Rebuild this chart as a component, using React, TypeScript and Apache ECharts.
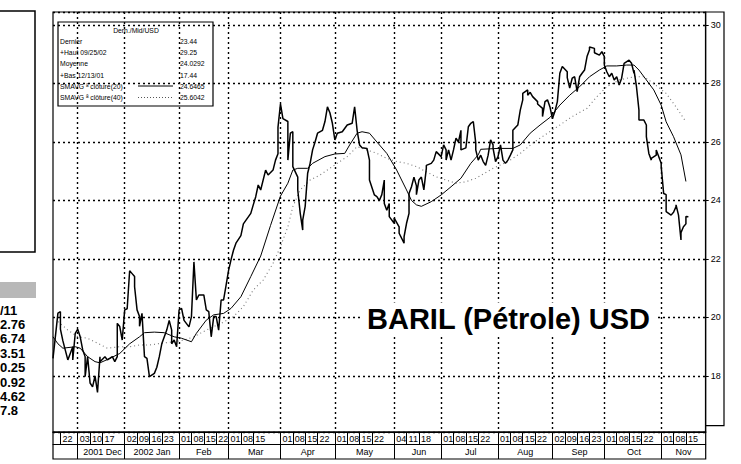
import React, { useEffect, useRef } from "react";
import * as echarts from "echarts";

// ---- trading-day calendar (category axis) ----
const calendarStart = "2001-11-19";
const calendarEnd = "2002-11-27";
const holidays = ["2001-12-25", "2001-12-26", "2002-01-01"];

// day labels (first row) and month cells (second row)
const dayTickDates = [
  "2001-11-22", "2001-12-03", "2001-12-10", "2001-12-17",
  "2002-01-02", "2002-01-09", "2002-01-16", "2002-01-23",
  "2002-02-01", "2002-02-08", "2002-02-15", "2002-02-22",
  "2002-03-01", "2002-03-08", "2002-03-15",
  "2002-04-01", "2002-04-08", "2002-04-15", "2002-04-22",
  "2002-05-01", "2002-05-08", "2002-05-15", "2002-05-22",
  "2002-06-04", "2002-06-11", "2002-06-18",
  "2002-07-01", "2002-07-08", "2002-07-15", "2002-07-22",
  "2002-08-01", "2002-08-08", "2002-08-15", "2002-08-22",
  "2002-09-02", "2002-09-09", "2002-09-16", "2002-09-23",
  "2002-10-01", "2002-10-08", "2002-10-15", "2002-10-22",
  "2002-11-01", "2002-11-08", "2002-11-15",
];
const monthStartDates = [
  "2001-12-03", "2002-01-02", "2002-02-01", "2002-03-01", "2002-04-01", "2002-05-01",
  "2002-06-04", "2002-07-01", "2002-08-01", "2002-09-02", "2002-10-01", "2002-11-01",
];
const monthLabels = ["2001 Dec", "2002 Jan", "Feb", "Mar", "Apr", "May", "Jun", "Jul", "Aug", "Sep", "Oct", "Nov"];

// ---- series: trading-day number (0 = 2001-11-19) and price in USD ----
const priceDay = [
  0, 2, 3, 3, 4, 6, 8, 8, 9, 10, 11, 12, 13, 13, 14, 15, 16, 17, 18, 19, 19, 21, 22, 24, 25, 26, 26, 27, 28, 29,
  30, 31, 32, 33, 33, 34, 35, 35, 36, 37, 38, 39, 41, 42, 43, 44, 46, 47, 48, 48, 49, 50, 51, 52, 53, 55, 56, 57, 58, 59,
  61, 62, 63, 64, 65, 66, 67, 68, 69, 70, 71, 72, 73, 74, 76, 77, 80, 81, 82, 83, 84, 86, 87, 89, 90, 91, 91, 92, 93, 95,
  95, 96, 97, 97, 99, 99, 100, 101, 101, 102, 103, 104, 105, 106, 107, 109, 110, 111, 112, 113, 114, 115, 117, 119, 121, 122, 123, 124, 125, 127,
  128, 128, 130, 131, 132, 133, 134, 134, 135, 136, 136, 138, 138, 140, 140, 142, 142, 143, 144, 144, 145, 146, 147, 147, 148, 149, 150, 151, 151, 153,
  154, 155, 157, 158, 159, 159, 160, 161, 162, 163, 164, 165, 165, 167, 168, 169, 170, 171, 171, 172, 173, 174, 175, 176, 177, 178, 178, 179, 180, 181,
  182, 183, 184, 185, 186, 186, 188, 189, 190, 190, 192, 192, 193, 194, 196, 196, 198, 198, 199, 200, 201, 202, 203, 204, 205, 206, 208, 208, 209, 210,
  211, 212, 213, 214, 215, 216, 217, 217, 219, 219, 221, 222, 223, 223, 224, 225, 226, 227, 228, 229, 230, 231, 233, 234, 235, 235, 236, 237, 237, 239,
  240, 240, 241, 242, 242, 244, 244, 246, 246, 247, 248, 248, 250, 251, 252, 252, 253, 254, 254, 255, 256, 256, 257,
];
const priceValue = [
  18.6, 20.15, 20.2, 19.6, 19.2, 18.55, 19.0, 18.55, 19.46, 19.6, 19.34, 18.9, 18.66, 17.98, 18.66, 17.76, 17.63, 18.0, 17.44, 18.66, 18.49, 18.66, 18.55, 18.66, 18.49, 18.66, 19.8, 19.69, 19.23, 20.26,
  20.3, 21.6, 21.5, 21.4, 21.05, 20.26, 20.03, 19.7, 20.14, 18.66, 18.6, 17.98, 18.09, 18.3, 18.66, 19.1, 19.57, 19.9, 19.57, 19.1, 19.23, 19.0, 20.26, 20.31, 19.9, 19.68, 20.03, 21.9, 20.6, 20.77,
  20.77, 20.26, 20.2, 19.34, 20.03, 20.03, 19.57, 20.6, 20.6, 21.1, 21.6, 21.97, 22.3, 22.54, 22.8, 23.2, 23.56, 23.85, 24.13, 24.53, 24.36, 25.04, 24.87, 25.04, 25.38, 25.6, 26.5, 27.3, 26.8, 26.7,
  25.38, 26.3, 26.35, 25.16, 24.8, 24.36, 23.56, 22.99, 23.33, 23.8, 24.93, 25.27, 25.73, 26.0, 26.3, 26.4, 26.7, 27.2, 27.0, 26.64, 26.07, 26.3, 26.35, 26.58, 26.64, 27.2, 26.4, 25.9, 25.8, 25.78,
  25.38, 24.7, 24.19, 24.13, 24.0, 24.2, 24.7, 23.9, 23.67, 23.9, 23.45, 23.22, 23.4, 23.1, 22.88, 22.54, 22.76, 23.22, 23.56, 24.24, 24.47, 24.8, 24.5, 24.2, 24.7, 24.8, 24.36, 25.1, 25.2, 25.27,
  25.38, 25.67, 25.5, 25.9, 25.73, 25.38, 25.73, 25.38, 25.73, 26.13, 26.0, 26.4, 25.73, 25.8, 26.52, 26.64, 26.7, 25.96, 25.73, 25.38, 25.55, 25.33, 25.2, 25.55, 26.07, 25.9, 25.78, 25.33, 25.5, 25.9,
  25.38, 25.27, 25.38, 25.55, 25.73, 26.4, 26.58, 27.09, 27.44, 27.66, 27.78, 27.6, 27.7, 27.55, 27.38, 27.3, 27.15, 26.87, 27.38, 27.44, 27.2, 26.8, 27.04, 27.38, 28.35, 28.58, 28.4, 28.2, 27.84, 28.18,
  28.23, 27.72, 28.23, 28.35, 28.46, 28.92, 29.15, 29.25, 29.2, 29.05, 28.97, 29.09, 28.92, 28.63, 28.4, 28.23, 28.35, 28.12, 28.23, 27.95, 28.18, 28.69, 28.8, 28.69, 28.35, 28.46, 27.89, 27.09, 26.75, 26.75,
  26.58, 26.18, 25.61, 25.38, 25.44, 25.55, 25.73, 25.27, 25.16, 24.24, 24.2, 23.62, 23.5, 23.6, 23.79, 23.85, 23.5, 22.65, 22.9, 23.1, 23.2, 23.45, 23.44,
];
const sma20Day = [
  0, 2, 4, 9, 11, 14, 17, 19, 23, 27, 31, 35, 37, 41, 45, 49, 52, 56, 58, 62, 65, 69, 72, 76, 80, 84, 88, 92, 95, 97,
  99, 103, 105, 110, 114, 118, 120, 123, 125, 128, 131, 135, 139, 143, 145, 147, 149, 153, 157, 161, 165, 169, 172, 173, 180, 186, 189, 193, 197, 201,
  205, 209, 213, 217, 221, 224, 228, 232, 235, 237, 240, 243, 246, 248, 251, 254, 256,
];
const sma20Value = [
  19.34, 19.1, 18.95, 19.0, 18.95, 18.66, 18.49, 18.45, 18.6, 18.77, 19.1, 19.34, 19.48, 19.5, 19.48, 19.34, 19.29, 19.17, 19.46, 19.91, 20.09, 20.14, 20.31, 20.71, 21.4, 22.1, 23.15, 24.15, 24.59, 25.04,
  25.1, 25.1, 25.27, 25.5, 25.59, 25.61, 25.9, 26.3, 26.35, 26.3, 26.0, 25.61, 25.04, 24.36, 24.0, 23.85, 23.8, 23.96, 24.19, 24.47, 24.76, 25.27, 25.56, 25.75, 25.78, 25.78, 25.9, 26.3, 26.58, 26.84,
  27.26, 27.6, 27.89, 28.23, 28.46, 28.6, 28.6, 28.63, 28.63, 28.46, 28.12, 27.78, 27.26, 26.69, 26.18, 25.56, 24.65,
];
const sma40Day = [
  2, 6, 10, 14, 18, 22, 27, 31, 35, 39, 44, 49, 53, 57, 62, 68, 73, 77, 81, 85, 89, 92, 95, 97, 100, 104, 108, 112, 115, 119,
  123, 127, 131, 135, 139, 143, 147, 151, 155, 159, 163, 167, 171, 178, 184, 189, 194, 200, 205, 210, 216, 220, 224, 229, 235, 239, 243, 248, 252, 256,
];
const sma40Value = [
  19.86, 19.57, 19.34, 19.29, 19.12, 18.95, 19.0, 19.0, 19.06, 19.06, 19.12, 19.17, 19.23, 19.34, 19.57, 19.8, 20.03, 20.37, 20.94, 21.28, 21.85, 22.42, 23.1, 23.79, 24.36, 24.7, 24.87, 25.1, 25.27, 25.5,
  25.84, 25.73, 25.61, 25.44, 25.33, 25.27, 25.16, 24.98, 24.81, 24.7, 24.59, 24.64, 24.76, 25.1, 25.33, 25.61, 25.96, 26.3, 26.58, 26.87, 27.15, 27.55, 27.89, 28.12, 28.23, 28.23, 28.0, 27.66, 27.2, 26.69,
];

// ---- texts ----
const chartTitle = "BARIL (Pétrole) USD";
const legendTitle = "Dern./Mid/USD";
const legendLabels = ["Dernier", "+Haut 09/25/02", "Moyenne", "+Bas 12/13/01", "SMAVG ª clôture(20)", "SMAVG ª clôture(40)"];
const legendValues = ["23.44", "29.25", "24.0292", "17.44", "24.6465", "25.6042"];
const sideValues = ["/11", "2.76", "6.74", "3.51", "0.25", "0.92", "4.62", "7.8"];

const NARROW = "'Liberation Sans Narrow', 'Arial Narrow', 'Liberation Sans', Arial, sans-serif";
const SANS = "'Liberation Sans', Arial, sans-serif";

function buildCalendar(): string[] {
  const out: string[] = [];
  const s = Date.parse(calendarStart + "T00:00:00Z");
  const e = Date.parse(calendarEnd + "T00:00:00Z");
  for (let t = s; t <= e; t += 86400000) {
    const d = new Date(t);
    const wd = d.getUTCDay();
    const iso = d.toISOString().slice(0, 10);
    if (wd === 0 || wd === 6 || holidays.includes(iso)) continue;
    out.push(iso);
  }
  return out;
}

export default function App() {
  const ref = useRef<HTMLDivElement>(null);
  useEffect(() => {
    document.body.style.margin = "0";
    if (!ref.current) return;
    const chart = echarts.init(ref.current, null, { renderer: "svg" });
    const categories = buildCalendar();
    const dayTickSet = new Set(dayTickDates.map((d) => categories.indexOf(d)));
    const monthIdx = monthStartDates.map((d) => categories.indexOf(d));
    const monthSet = new Set(monthIdx);
    const monthLabelMap = new Map<number, string>();
    monthIdx.forEach((s, i) => {
      const e = i + 1 < monthIdx.length ? monthIdx[i + 1] : categories.length - 1;
      monthLabelMap.set(Math.round((s + e) / 2), monthLabels[i]);
    });

    const zip = (xs: number[], ys: number[]) => xs.map((x, i) => [x, ys[i]]);
    const dotted = { color: "#000", type: [2, 3] as any, width: 1.4 };

    const textStyle = (text: string, font: string, align: string) => ({
      text, font, fill: "#000", textAlign: align, textVerticalAlign: "middle", align, verticalAlign: "middle",
    });

    const legendRowsY = [41.7, 52.5, 63.5, 75, 86, 97.5];
    const legendChildren: any[] = [
      { type: "rect", shape: { x: 58, y: 22, width: 155, height: 84 }, style: { fill: "#fff", stroke: "#000", lineWidth: 1.2 } },
      { type: "text", x: 136, y: 30, scaleX: 0.85, style: textStyle(legendTitle, `8px ${NARROW}`, "center") },
      { type: "line", shape: { x1: 138, y1: 86, x2: 173, y2: 86 }, style: { stroke: "#000", lineWidth: 1 } },
      { type: "line", shape: { x1: 138, y1: 97.5, x2: 173, y2: 97.5 }, style: { stroke: "#555", lineWidth: 1, lineDash: [1, 2] } },
    ];
    legendLabels.forEach((t, i) => {
      legendChildren.push({ type: "text", x: 60, y: legendRowsY[i], scaleX: 0.85, style: textStyle(t, `8px ${NARROW}`, "left") });
      legendChildren.push({ type: "text", x: 180, y: legendRowsY[i], scaleX: 0.85, style: textStyle(legendValues[i], `8px ${NARROW}`, "left") });
    });

    const sideChildren: any[] = [
      { type: "rect", shape: { x: -2, y: 11, width: 37, height: 241 }, style: { fill: "none", stroke: "#000", lineWidth: 1.5 } },
      { type: "rect", shape: { x: 0, y: 282, width: 36, height: 16 }, style: { fill: "#b8b8b8" } },
    ];
    sideValues.forEach((t, i) => {
      sideChildren.push({ type: "text", x: 0, y: 310 + i * 14.4, style: textStyle(t, `bold 13px ${SANS}`, "left") });
    });

    chart.setOption({
      animation: false,
      backgroundColor: "#fff",
      grid: { left: 53, right: 35.3, top: 12, bottom: 32, show: true, borderColor: "#000", borderWidth: 1.2, backgroundColor: "transparent" },
      xAxis: [
        {
          type: "category", data: categories, boundaryGap: false, position: "bottom",
          axisLine: { show: true, lineStyle: { color: "#000", width: 1.2 } },
          axisTick: { show: true, length: 12, interval: (i: number) => dayTickSet.has(i), lineStyle: { color: "#000", width: 1 } },
          axisLabel: {
            interval: (i: number) => dayTickSet.has(i),
            formatter: (v: string) => v.slice(8, 10),
            align: "left", padding: [0, 0, 0, 2], margin: 2,
            fontSize: 9, fontFamily: NARROW, color: "#000",
          },
          splitLine: { show: true, interval: (i: number) => monthSet.has(i), lineStyle: dotted },
        },
        {
          type: "category", data: categories, boundaryGap: false, position: "bottom", offset: 12,
          axisLine: { show: true, lineStyle: { color: "#000", width: 1 } },
          axisTick: { show: true, length: 15, interval: (i: number) => monthSet.has(i), lineStyle: { color: "#000", width: 1 } },
          axisLabel: {
            interval: (i: number) => monthLabelMap.has(i),
            formatter: (_v: string, i: number) => monthLabelMap.get(i) || "",
            align: "center", margin: 3,
            fontSize: 9, fontFamily: NARROW, color: "#000",
          },
          splitLine: { show: false },
        },
      ],
      yAxis: {
        type: "value", position: "right", min: 16.085, max: 30.444, splitNumber: 7, minInterval: 2, maxInterval: 2,
        axisLine: { show: true, lineStyle: { color: "#000", width: 1.2 } },
        axisTick: { show: true, length: 3, lineStyle: { color: "#000" } },
        axisLabel: {
          color: "#000", fontSize: 9, fontFamily: NARROW, margin: 5, showMinLabel: false, showMaxLabel: false,
          formatter: (v: number) => (Math.abs(v - Math.round(v)) < 1e-6 ? String(Math.round(v)) : ""),
        },
        splitLine: { show: true, lineStyle: dotted },
      },
      series: [
        {
          name: "SMA40", type: "line", xAxisIndex: 0, data: zip(sma40Day, sma40Value), symbol: "none", silent: true,
          lineStyle: { color: "#777", width: 1.1, type: [1, 3] as any }, z: 2,
        },
        {
          name: "SMA20", type: "line", xAxisIndex: 0, data: zip(sma20Day, sma20Value), symbol: "none", silent: true,
          lineStyle: { color: "#000", width: 1 }, z: 3,
        },
        {
          name: "Price", type: "line", xAxisIndex: 0, data: zip(priceDay, priceValue), symbol: "none", silent: true,
          lineStyle: { color: "#000", width: 1.5 }, z: 4,
        },
      ],
      graphic: [
        {
          type: "group", z: 100, children: [
            { type: "polyline", shape: { points: [[705.7, 12], [724, 12], [724, 425.7], [705.7, 425.7]] }, style: { fill: "none", stroke: "#000", lineWidth: 1.2 } },
            { type: "rect", shape: { x: 53, y: 432, width: 652.7, height: 27 }, style: { fill: "none", stroke: "#000", lineWidth: 1.2 } },
            ...sideChildren,
            ...legendChildren,
          ],
        },
        { type: "rect", z: 110, shape: { x: 362, y: 304, width: 294, height: 30 }, style: { fill: "#ffffff", stroke: "#ffffff" } },
        {
          type: "text", z: 120, x: 365, y: 319,
          style: { ...textStyle(chartTitle, `bold 29px ${SANS}`, "left"), backgroundColor: "#ffffff", padding: [2, 2, 2, 2] },
        },
      ],
    });
    return () => chart.dispose();
  }, []);
  return <div ref={ref} style={{ position: "absolute", left: 0, top: 0, width: 741, height: 464 }} />;
}
